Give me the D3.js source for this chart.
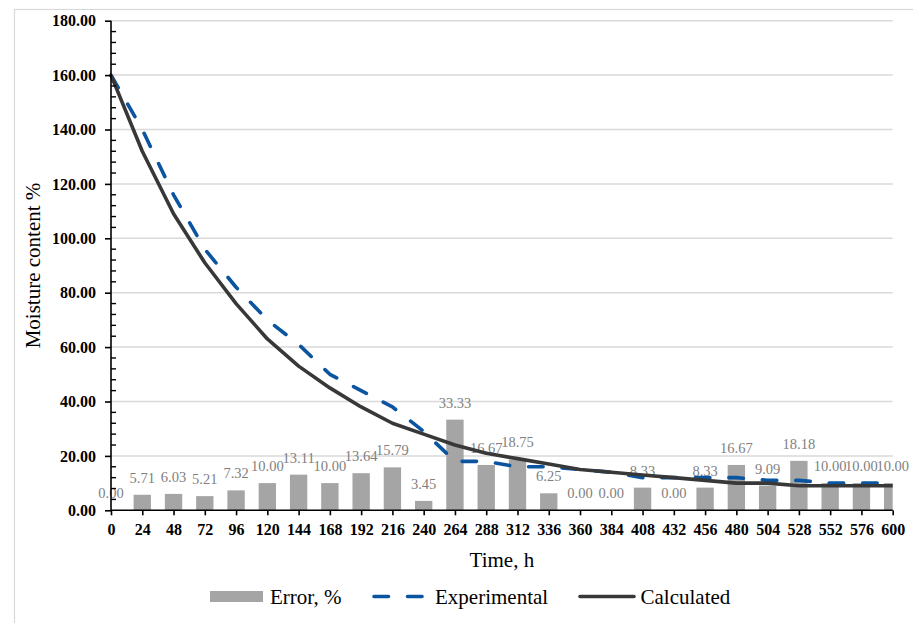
<!DOCTYPE html>
<html>
<head>
<meta charset="utf-8">
<script src="https://cdn.jsdelivr.net/npm/d3@7"></script>
<style>
  html, body { margin: 0; padding: 0; background: #fff; }
  svg { display: block; }
  svg text { font-family: "Liberation Serif", "Times New Roman", Tinos, "DejaVu Serif", serif; }
</style>
</head>
<body>
<svg id="chart" width="913" height="623"></svg>
<script>
const categories = [0,24,48,72,96,120,144,168,192,216,240,264,288,312,336,360,384,408,432,456,480,504,528,552,576,600];
const experimental = [160,140,116,96,82,70,61,50,44,38,29,18,18,16,16,15,14,12,12,12,12,11,11,10,10,10];
const calculated = [160,132,109,91,76,63,53,45,38,32,28,24,21,19,17,15,14,13,12,11,10,10,9,9,9,9];
const errors = [0.00,5.71,6.03,5.21,7.32,10.00,13.11,10.00,13.64,15.79,3.45,33.33,16.67,18.75,6.25,0.00,0.00,8.33,0.00,8.33,16.67,9.09,18.18,10.00,10.00,10.00];
const yTicks = [0,20,40,60,80,100,120,140,160,180];
const yMinorTicks = d3.range(0, 181, 4);
const seriesNames = ["Error, %", "Experimental", "Calculated"];

const svg = d3.select("#chart");

const plot = { left: 111, right: 892.7, top: 20.7, bottom: 510.3 };

const x = d3.scalePoint().domain(categories).range([plot.left, plot.right]);
const y = d3.scaleLinear().domain([0, 180]).range([plot.bottom, plot.top]);
const step = x.step();
const barW = step * 0.555;

// chart area border
svg.append("rect")
  .attr("x", 14.5).attr("y", 9.5)
  .attr("width", 1000).attr("height", 1000)
  .attr("fill", "none").attr("stroke", "#d9d9d9").attr("stroke-width", 1.2);

// gridlines
svg.append("g").selectAll("line")
  .data(yTicks.filter(d => d > 0))
  .join("line")
  .attr("x1", plot.left).attr("x2", plot.right)
  .attr("y1", d => y(d)).attr("y2", d => y(d))
  .attr("stroke", "#d9d9d9").attr("stroke-width", 1.5);

// clip
svg.append("clipPath").attr("id", "plotclip")
  .append("rect")
  .attr("x", plot.left).attr("y", plot.top - 5)
  .attr("width", plot.right - plot.left).attr("height", plot.bottom - plot.top + 5);

// bars
svg.append("g").attr("clip-path", "url(#plotclip)")
  .selectAll("rect")
  .data(categories.map((c, i) => ({ c, v: errors[i] })))
  .join("rect")
  .attr("x", d => x(d.c) - barW / 2)
  .attr("y", d => y(d.v))
  .attr("width", barW)
  .attr("height", d => y(0) - y(d.v))
  .attr("fill", "#a5a5a5");

// bar labels
svg.append("g").selectAll("text")
  .data(categories.map((c, i) => ({ c, v: errors[i] })))
  .join("text")
  .attr("x", d => x(d.c))
  .attr("y", d => y(d.v) - 12)
  .attr("text-anchor", "middle")
  .attr("font-size", 14.5)
  .attr("fill", "#7f7f7f")
  .text(d => d3.format(".2f")(d.v));

// lines
const lineGen = d3.line().x((d, i) => x(categories[i])).y(d => y(d));
svg.append("path")
  .datum(experimental)
  .attr("d", lineGen)
  .attr("fill", "none")
  .attr("stroke", "#0b55a0")
  .attr("stroke-width", 3.6)
  .attr("stroke-linecap", "round")
  .attr("stroke-linejoin", "round")
  .attr("stroke-dasharray", "14.5,19");

svg.append("path")
  .datum(calculated)
  .attr("d", lineGen)
  .attr("fill", "none")
  .attr("stroke", "#383838")
  .attr("stroke-width", 3.6)
  .attr("stroke-linejoin", "round");

// Y axis
const yAxis = svg.append("g").attr("transform", `translate(${plot.left},0)`)
  .call(d3.axisLeft(y).tickValues(yTicks).tickSize(6).tickPadding(9).tickFormat(d3.format(".2f")));
yAxis.attr("font-family", null);
yAxis.select(".domain").attr("stroke", "#000").attr("stroke-width", 1.6).attr("d", `M0,${plot.bottom}V${plot.top}`);
yAxis.selectAll(".tick line").attr("stroke", "#000").attr("stroke-width", 1.6);
yAxis.selectAll(".tick text")
  .attr("font-size", 16).attr("font-weight", "bold").attr("fill", "#000");
// minor ticks (inside)
yAxis.append("g").selectAll("line")
  .data(yMinorTicks.filter(d => d % 20 !== 0))
  .join("line")
  .attr("x1", 0).attr("x2", 5)
  .attr("y1", d => y(d)).attr("y2", d => y(d))
  .attr("stroke", "#000").attr("stroke-width", 1.4);

// X axis
const xAxis = svg.append("g").attr("transform", `translate(0,${plot.bottom})`)
  .call(d3.axisBottom(x).tickSize(5).tickPadding(8));
xAxis.attr("font-family", null);
xAxis.select(".domain").attr("stroke", "#000").attr("stroke-width", 1.6).attr("d", `M${plot.left},0H${plot.right}`);
xAxis.selectAll(".tick line").attr("stroke", "#000").attr("stroke-width", 1.6);
xAxis.selectAll(".tick text")
  .attr("font-size", 16).attr("font-weight", "bold").attr("fill", "#000");

// axis titles
svg.append("text")
  .attr("transform", `translate(39.5,${(plot.top + plot.bottom) / 2}) rotate(-90)`)
  .attr("text-anchor", "middle")
  .attr("font-size", 21).attr("fill", "#000")
  .text("Moisture content %");

svg.append("text")
  .attr("x", (plot.left + plot.right) / 2).attr("y", 567)
  .attr("text-anchor", "middle")
  .attr("font-size", 21).attr("fill", "#000")
  .text("Time, h");

// legend
const legY = 596.5;
const leg = svg.append("g");
leg.append("rect").attr("x", 210).attr("y", legY - 5.5).attr("width", 53).attr("height", 11).attr("fill", "#a5a5a5");
leg.append("text").attr("x", 270).attr("y", legY + 7).attr("font-size", 21).attr("fill", "#000").text(seriesNames[0]);

leg.append("line").attr("x1", 374).attr("x2", 426).attr("y1", legY).attr("y2", legY)
  .attr("stroke", "#0b55a0").attr("stroke-width", 3.6).attr("stroke-linecap", "round").attr("stroke-dasharray", "14.5,19");
leg.append("text").attr("x", 435).attr("y", legY + 7).attr("font-size", 21).attr("fill", "#000").text(seriesNames[1]);

leg.append("line").attr("x1", 580).attr("x2", 634).attr("y1", legY).attr("y2", legY)
  .attr("stroke", "#383838").attr("stroke-width", 3.6).attr("stroke-linecap", "round");
leg.append("text").attr("x", 640.5).attr("y", legY + 7).attr("font-size", 21).attr("fill", "#000").text(seriesNames[2]);
</script>
</body>
</html>
